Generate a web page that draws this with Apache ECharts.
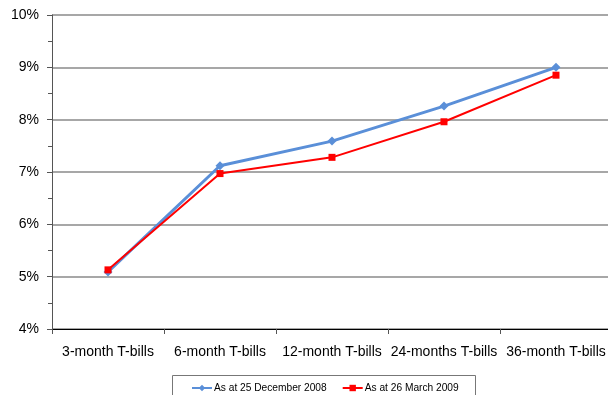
<!DOCTYPE html>
<html>
<head>
<meta charset="utf-8">
<style>
  html, body { margin: 0; padding: 0; background: #fff; overflow: hidden; }
  #chart { width: 612px; height: 395px; }
</style>
<script src="https://cdn.jsdelivr.net/npm/echarts@6/dist/echarts.min.js"></script>
</head>
<body>
<div id="chart"></div>
<script>
// Treasury bill yields by maturity (%)
const categories = ['3-month T-bills', '6-month T-bills', '12-month T-bills', '24-months T-bills', '36-month T-bills'];
const dec2008 = [5.09, 7.12, 7.59, 8.26, 9.00];
const mar2009 = [5.13, 6.97, 7.28, 7.96, 8.85];
const seriesNames = ['As at 25 December 2008', 'As at 26 March 2009'];

const chart = echarts.init(document.getElementById('chart'));
const font = 'Liberation Sans, Arial, sans-serif';

chart.setOption({
  animation: false,
  backgroundColor: '#ffffff',
  grid: { left: 52, right: 0, top: 15, bottom: 66, containLabel: false },
  xAxis: {
    type: 'category',
    data: categories,
    boundaryGap: true,
    axisLine: { lineStyle: { color: '#000', width: 1 } },
    axisTick: { show: true, length: 5, lineStyle: { color: '#555' } },
    axisLabel: { color: '#000', fontFamily: font, fontSize: 14, margin: 16, interval: 0 }
  },
  yAxis: {
    type: 'value',
    min: 4, max: 10, interval: 1,
    axisLine: { show: true, lineStyle: { color: '#555', width: 1 } },
    axisTick: { show: true, length: 5, inside: false, lineStyle: { color: '#555' } },
    minorTick: { show: true, splitNumber: 2, length: 4, lineStyle: { color: '#555' } },
    axisLabel: { color: '#000', fontFamily: font, fontSize: 14, margin: 13, formatter: v => v + '%' },
    splitLine: { show: true, lineStyle: { color: '#8a8a8a', width: 1.5 } }
  },
  legend: {
    left: 186, top: 378,
    itemGap: 15,
    itemWidth: 20, itemHeight: 8,
    textStyle: { fontFamily: font, fontSize: 10.2, color: '#000', padding: [0, 0, 0, -3] },
    data: seriesNames
  },
  graphic: [{
    type: 'rect',
    shape: { x: 172.5, y: 375.5, width: 303, height: 30 },
    style: { fill: 'none', stroke: '#777', lineWidth: 1 },
    silent: true,
    z: 0
  }],
  series: [
    {
      name: seriesNames[0],
      type: 'line',
      data: dec2008,
      symbol: 'diamond',
      symbolSize: 9,
      lineStyle: { color: '#5a8fd8', width: 3 },
      itemStyle: { color: '#5a8fd8' },
      z: 2
    },
    {
      name: seriesNames[1],
      type: 'line',
      data: mar2009,
      symbol: 'rect',
      symbolSize: 7,
      lineStyle: { color: '#ff0000', width: 2 },
      itemStyle: { color: '#ff0000' },
      z: 3
    }
  ]
});
</script>
</body>
</html>
